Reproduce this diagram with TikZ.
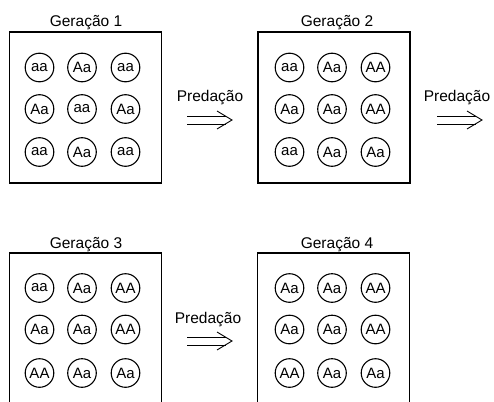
\documentclass[tikz,border=0pt]{standalone}
\usepackage{fontspec}
\setmainfont{Liberation Sans}
\begin{document}
\begin{tikzpicture}
        [x=1pt, y=-1pt,
        ind/.style={circle, draw, line width=1.1pt, minimum size=28.6pt, inner sep=0pt, font=\fontsize{15}{17}\selectfont},
        box/.style={draw, line width=1.5pt, minimum width=152pt, minimum height=151pt, inner sep=0pt},
        title/.style={anchor=base, font=\fontsize{15.5}{18}\selectfont},
        arrowline/.style={line width=0.9pt},
        head/.style={line width=0.9pt, line join=miter}]

        \clip (0,0) rectangle (494,401);
        \useasboundingbox (0,0) rectangle (494,401);

        % populations
        \node[box] (g1) at (85.5, 107.5) {};
        \node[box] (g2) at (334, 107.5) {};
        \node[box] (g3) at (85.5, 328.5) {};
        \node[box] (g4) at (333.5, 328.5) {};

        \node[title] (t1) at (86, 27) {Geração 1};
        \node[title] (t2) at (337, 27) {Geração 2};
        \node[title] (t3) at (86, 248) {Geração 3};
        \node[title] (t4) at (337, 248) {Geração 4};

        % generation 1
        \node[ind] (g1a) at (39.5, 67.5) {aa};
        \node[ind] (g1b) at (82, 67.5) {Aa};
        \node[ind] (g1c) at (125.5, 67.5) {aa};
        \node[ind] (g1d) at (39.5, 109) {Aa};
        \node[ind] (g1e) at (82, 109) {aa};
        \node[ind] (g1f) at (125.5, 109) {Aa};
        \node[ind] (g1g) at (39.5, 152) {aa};
        \node[ind] (g1h) at (82, 152) {Aa};
        \node[ind] (g1i) at (125.5, 152) {aa};

        % generation 2
        \node[ind] (g2a) at (289.5, 67.5) {aa};
        \node[ind] (g2b) at (332, 67.5) {Aa};
        \node[ind] (g2c) at (375.5, 67.5) {AA};
        \node[ind] (g2d) at (289.5, 109) {Aa};
        \node[ind] (g2e) at (332, 109) {Aa};
        \node[ind] (g2f) at (375.5, 109) {AA};
        \node[ind] (g2g) at (289.5, 152) {aa};
        \node[ind] (g2h) at (332, 152) {Aa};
        \node[ind] (g2i) at (375.5, 152) {Aa};

        % generation 3
        \node[ind] (g3a) at (39.5, 288) {aa};
        \node[ind] (g3b) at (82, 288) {Aa};
        \node[ind] (g3c) at (125.5, 288) {AA};
        \node[ind] (g3d) at (39.5, 329.5) {Aa};
        \node[ind] (g3e) at (82, 329.5) {Aa};
        \node[ind] (g3f) at (125.5, 329.5) {AA};
        \node[ind] (g3g) at (39.5, 373) {AA};
        \node[ind] (g3h) at (82, 373) {Aa};
        \node[ind] (g3i) at (125.5, 373) {Aa};

        % generation 4
        \node[ind] (g4a) at (289.5, 288) {Aa};
        \node[ind] (g4b) at (332, 288) {Aa};
        \node[ind] (g4c) at (375.5, 288) {AA};
        \node[ind] (g4d) at (289.5, 329.5) {Aa};
        \node[ind] (g4e) at (332, 329.5) {Aa};
        \node[ind] (g4f) at (375.5, 329.5) {AA};
        \node[ind] (g4g) at (289.5, 373) {AA};
        \node[ind] (g4h) at (332, 373) {Aa};
        \node[ind] (g4i) at (375.5, 373) {Aa};

        % predation steps
        \node[title] (p1) at (210, 102) {Predação};
        \node[title] (p2) at (457, 102) {Predação};
        \node[title] (p3) at (208, 323) {Predação};

        \coordinate (p1s) at (187, 120);
        \coordinate (p1e) at (232, 120);
        \coordinate (p2s) at (437, 120);
        \coordinate (p2e) at (482, 120);
        \coordinate (p3s) at (187, 341);
        \coordinate (p3e) at (232, 341);

        \draw[arrowline] ([yshift=4pt]p1s) -- ([xshift=-6pt, yshift=4pt]p1e);
        \draw[arrowline] ([yshift=-4pt]p1s) -- ([xshift=-6pt, yshift=-4pt]p1e);
        \draw[arrowline] ([yshift=4pt]p2s) -- ([xshift=-6pt, yshift=4pt]p2e);
        \draw[arrowline] ([yshift=-4pt]p2s) -- ([xshift=-6pt, yshift=-4pt]p2e);
        \draw[arrowline] ([yshift=4pt]p3s) -- ([xshift=-6pt, yshift=4pt]p3e);
        \draw[arrowline] ([yshift=-4pt]p3s) -- ([xshift=-6pt, yshift=-4pt]p3e);

        % arrow heads
        \draw[head] (p1e) +(-15,-9) -- (p1e) -- +(-15,9);
        \draw[head] (p2e) +(-15,-9) -- (p2e) -- +(-15,9);
        \draw[head] (p3e) +(-15,-9) -- (p3e) -- +(-15,9);

    \end{tikzpicture}
\end{document}
